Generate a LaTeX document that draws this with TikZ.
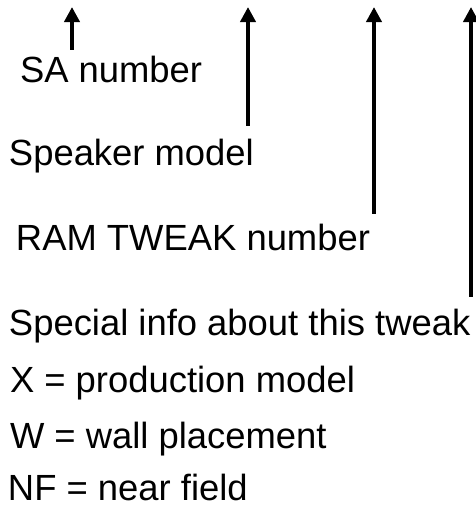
\documentclass[tikz,border=0pt]{standalone}
\usepackage{fontspec}
\setmainfont{Liberation Sans}
\usepackage{tikz}
\usetikzlibrary{arrows.meta}

\begin{document}
\begin{tikzpicture}[x=1pt,y=-1pt,line width=4pt,
  lbl/.style={anchor=base west,inner sep=0pt,font=\fontsize{36.4}{40}\selectfont},
  ptr/.style={-{Triangle[width=15pt,length=15pt]}}]

\useasboundingbox (0,0) rectangle (475,506);

\node[lbl] (sa) at (18,82) {SA number};
\node[lbl] (spk) at (7,165) {Speaker model};
\node[lbl] (ram) at (14,250) {RAM TWEAK number};
\node[lbl] (spec) at (7,335) {Special info about this tweak};
\node[lbl] (prod) at (8,392) {X = production model};
\node[lbl] (wall) at (8,448) {W = wall placement};
\node[lbl] (nf) at (6,500) {NF = near field};

\foreach \n/\px/\s in {sa/72/4,spk/248/11,ram/374/8,spec/471/10} {
  \coordinate (top-\n) at (\px,7);
  \draw[ptr] (\n.north -| top-\n) ++(0,-\s) -- (top-\n);
}

\end{tikzpicture}
\end{document}
